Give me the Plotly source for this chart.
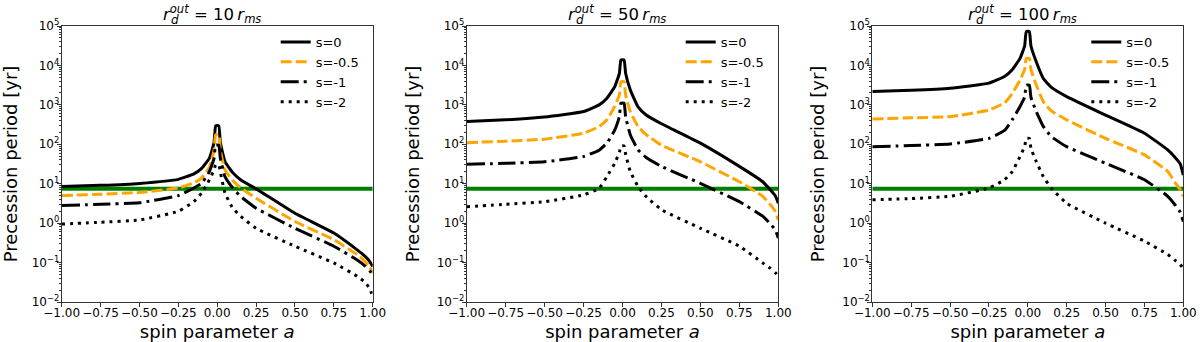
import plotly.graph_objects as go

# spin parameter grid (read positions)
spin = [-1.0, -0.75, -0.5, -0.25, -0.15, -0.1, -0.05, -0.02, -0.01, 0.01, 0.02,
        0.05, 0.1, 0.15, 0.25, 0.5, 0.75, 0.9, 0.95, 0.98, 1.0]

series_names = ["s=0", "s=-0.5", "s=-1", "s=-2"]
panel_titles = ["10", "50", "100"]
green_level = [7.4, 7.4]
green_x = [-1.0, 1.0]

# Panel 1: r_out = 10 r_ms  (precession period in yr)
r10_s0 = [8.5, 9.1, 10.2, 12.9, 17.8, 24.5, 44.7, 112, 295, 295, 112,
          36.3, 19.1, 12.6, 7.4, 1.78, 0.56, 0.21, 0.145, 0.107, 0.079]
r10_s05 = [5.0, 5.4, 6.0, 7.8, 10.5, 14.1, 26.3, 70.8, 174, 174, 70.8,
           22.4, 12.0, 7.9, 4.3, 1.1, 0.38, 0.16, 0.107, 0.079, 0.054]
r10_s1 = [2.8, 3.0, 3.3, 5.0, 7.8, 10.2, 20.4, 44.7, 95, 95, 44.7,
          15.1, 7.8, 4.8, 2.4, 0.74, 0.26, 0.117, 0.083, 0.063, 0.049]
r10_s2 = [0.95, 1.05, 1.2, 2.0, 3.5, 5.8, 12.6, 22.4, 30.2, 30.2, 20.0,
          5.8, 2.4, 1.5, 0.74, 0.26, 0.098, 0.045, 0.032, 0.022, 0.014]

# Panel 2: r_out = 50 r_ms
r50_s0 = [380, 417, 490, 676, 1000, 1480, 2880, 6310, 13800, 13800, 6310,
          2400, 891, 562, 331, 107, 27.5, 11.2, 6.9, 5.0, 3.2]
r50_s05 = [110, 120, 135, 191, 282, 417, 912, 1780, 3890, 3890, 1780,
           676, 282, 178, 95, 36, 11.2, 4.8, 2.9, 2.0, 1.2]
r50_s1 = [31, 33, 36, 49, 71, 107, 229, 501, 1100, 1100, 501,
          174, 72, 47, 27.5, 10.2, 3.5, 1.5, 0.95, 0.68, 0.42]
r50_s2 = [2.6, 3.0, 3.5, 5.2, 7.6, 15.1, 33, 63, 91, 91, 56,
          20.4, 8.5, 4.8, 2.2, 0.74, 0.26, 0.098, 0.071, 0.056, 0.045]

# Panel 3: r_out = 100 r_ms
r100_s0 = [2190, 2340, 2630, 3550, 5250, 7760, 15100, 31600, 72400, 72400, 31600,
           13800, 4680, 2820, 1620, 550, 191, 72, 45, 32, 16.6]
r100_s05 = [437, 468, 501, 741, 1120, 1950, 4270, 7940, 15100, 15100, 7940,
            3550, 1200, 708, 417, 141, 54, 20.4, 10.2, 7.1, 4.8]
r100_s1 = [87, 93, 102, 141, 224, 417, 912, 1580, 3160, 3160, 1580,
           741, 282, 158, 87, 33, 12.6, 4.8, 2.8, 1.9, 1.1]
r100_s2 = [3.9, 4.2, 4.8, 7.8, 12.6, 20.4, 49, 89, 141, 141, 79,
           40, 15.1, 7.8, 3.2, 1.0, 0.35, 0.16, 0.112, 0.089, 0.071]

panels = [
    [r10_s0, r10_s05, r10_s1, r10_s2],
    [r50_s0, r50_s05, r50_s1, r50_s2],
    [r100_s0, r100_s05, r100_s1, r100_s2],
]

x_ticks = [-1.0, -0.75, -0.5, -0.25, 0.0, 0.25, 0.5, 0.75, 1.0]
y_tick_vals = [0.01, 0.1, 1, 10, 100, 1000, 10000, 100000]
y_tick_text = ["10<sup>\u22122</sup>", "10<sup>\u22121</sup>", "10<sup>0</sup>", "10<sup>1</sup>",
               "10<sup>2</sup>", "10<sup>3</sup>", "10<sup>4</sup>", "10<sup>5</sup>"]

styles = [
    dict(color="black", dash="solid"),
    dict(color="orange", dash="11px,4px"),
    dict(color="black", dash="18px,5px,3px,5px"),
    dict(color="black", dash="3px,5px"),
]

# body margin is removed in the page, so page pixels == figure pixels
OFF = 0
W, H = 1200, 342
x_px = [(61.7, 372.7), (466.7, 778.3), (872.3, 1183.3)]   # page pixels
title_left = [161, 566, 966]                               # page pixels
y_top, y_bot = 26, 302                                      # page pixels


def fx(px):
    return (px - OFF) / W


def fy(py):
    return 1 - (py - OFF) / H


ydom = [fy(y_bot), fy(y_top)]

FONT = "DejaVu Sans"
AXC = "#333"
fig = go.Figure()

for p, curves in enumerate(panels):
    sfx = "" if p == 0 else str(p + 1)
    xa = "x" + sfx
    ya = "y" + sfx
    leg = "legend" + sfx
    fig.add_trace(go.Scatter(x=green_x, y=green_level, mode="lines",
                             line=dict(color="green", width=4),
                             showlegend=False, xaxis=xa, yaxis=ya, hoverinfo="skip"))
    for name, vals, st in zip(series_names, curves, styles):
        fig.add_trace(go.Scatter(x=spin, y=vals, mode="lines", name=name,
                                 line=dict(color=st["color"], dash=st["dash"], width=3,
                                           shape="spline", smoothing=0.4),
                                 xaxis=xa, yaxis=ya, legend=leg))
    dom = [fx(x_px[p][0]), fx(x_px[p][1])]
    axis_common = dict(showline=True, linecolor=AXC, linewidth=1, mirror=True,
                       ticks="outside", ticklen=4, tickwidth=1, tickcolor=AXC,
                       showgrid=False, zeroline=False, automargin=False,
                       tickfont=dict(family=FONT, size=12, color="black"))
    fig.layout["xaxis" + sfx] = dict(
        domain=dom, anchor=ya, range=[-1, 1], tickvals=x_ticks,
        tickformat=".2f", tickangle=0, ticklabelstandoff=-4,
        title=dict(text="spin parameter <i>a</i>", standoff=10,
                   font=dict(family=FONT, size=18, color="black")),
        **axis_common)
    fig.layout["yaxis" + sfx] = dict(
        domain=ydom, anchor=xa, type="log", range=[-2, 5],
        tickvals=y_tick_vals, ticktext=y_tick_text, ticklabelstandoff=-5,
        minor=dict(ticks="outside", ticklen=2, tickcolor=AXC, dtick="D1", showgrid=False),
        title=dict(text="Precession period [yr]", standoff=12,
                   font=dict(family=FONT, size=18, color="black")),
        **axis_common)
    fig.layout[leg] = dict(x=fx(x_px[p][0] + 214), xanchor="left",
                           y=fy(27), yanchor="top",
                           bgcolor="rgba(255,255,255,0)", borderwidth=0,
                           font=dict(family=FONT, size=13, color="black"),
                           itemwidth=30, tracegroupgap=0)
    left = fx(title_left[p])
    fig.add_annotation(
        x=left, y=ydom[1], xref="paper", yref="paper",
        xanchor="left", yanchor="bottom", yshift=-2, showarrow=False,
        text="<i>r</i><sup><i>out</i></sup> = " + panel_titles[p]
             + "\u2009<i>r</i><sub><i>ms</i></sub>",
        font=dict(family=FONT, size=16.5, color="black"))
    fig.add_annotation(
        x=left + 7.5 / W, y=ydom[1], xref="paper", yref="paper",
        xanchor="left", yanchor="bottom", yshift=-3, showarrow=False,
        text="<i>d</i>",
        font=dict(family=FONT, size=12, color="black"))

fig.update_layout(width=W, height=H, margin=dict(l=0, r=0, t=0, b=0, autoexpand=False),
                  plot_bgcolor="white", paper_bgcolor="white",
                  font=dict(family=FONT, color="black"))

fig.write_html("out.html",
               config={"displayModeBar": False},
               post_script="document.body.style.margin='0px';")
